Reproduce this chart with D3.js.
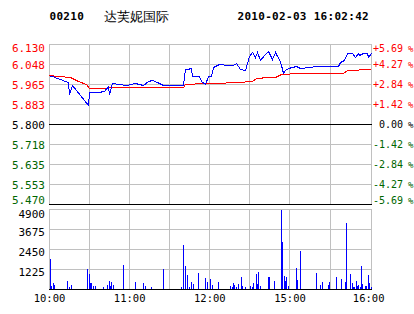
<!DOCTYPE html>
<html>
<head>
<meta charset="utf-8">
<script src="https://cdn.jsdelivr.net/npm/d3@7"></script>
<style>
body { margin: 0; background: #fff; }
svg { display: block; }
text { font-family: "DejaVu Sans Mono", monospace; }
</style>
</head>
<body>
<svg id="chart" width="414" height="314"></svg>
<script>
// header
const stockCode = "00210";
const stockName = "达芙妮国际";
const stamp = "2010-02-03 16:02:42";

// tick labels
const priceTicks = [6.130, 6.048, 5.965, 5.883, 5.800, 5.718, 5.635, 5.553, 5.470];
const pctTicks = ["+5.69", "+4.27", "+2.84", "+1.42", "0.00", "-1.42", "-2.84", "-4.27", "-5.69"];
const volTicks = [4900, 3675, 2450, 1225];
const timeTicks = [0, 60, 120, 180, 240];   // trading minutes since 10:00
const timeLabels = ["10:00", "11:00", "12:00", "15:00", "16:00"];

// price line (minute, price)
const priceMin = [0,2,12,14,15,17,29,30,37,41,44,45,47,52,58,64,70,74,77,81,85,100,102,103,106,107,112,114,117,119,121,123,127,133,138,140,143,147,150,152,154,156,158,161,164,167,169,171,172,174,175,177,179,182,185,188,195,199,216,218,221,223,227,229,231,232,235,238,239,241];
const price = [6.000,5.999,5.979,5.973,5.923,5.960,5.878,5.931,5.931,5.938,5.958,5.922,5.971,5.965,5.961,5.971,5.961,5.977,5.981,5.975,5.962,5.961,6.025,6.027,6.031,6.000,6.000,5.979,5.963,6.000,6.000,6.035,6.049,6.045,6.045,6.052,6.025,6.024,6.080,6.099,6.078,6.099,6.066,6.083,6.101,6.068,6.095,6.080,6.068,6.043,6.009,6.023,6.029,6.036,6.041,6.031,6.036,6.041,6.041,6.055,6.064,6.092,6.092,6.076,6.092,6.086,6.092,6.092,6.078,6.092];

// average price line
const avgMin = [0,7,16,22,28,30,59,61,82,100,102,117,124,141,152,155,157,162,169,174,187,220,223,241];
const avgPrice = [6.002,5.997,5.992,5.978,5.964,5.948,5.951,5.953,5.954,5.954,5.963,5.968,5.969,5.975,5.978,5.990,5.990,5.995,5.995,6.005,6.009,6.009,6.023,6.027];

// volume bars
const volMin = [1,2,3,4,14,15,17,29,30,31,32,33,35,41,44,45,46,47,48,56,65,71,72,77,86,99,101,102,104,105,107,108,112,117,119,121,122,127,136,137,138,139,140,142,144,145,147,151,152,153,155,156,157,158,164,165,169,174,175,176,177,178,179,185,186,188,200,203,205,209,210,215,219,222,223,226,227,228,229,230,231,232,233,234,235,237,238,239,240,241];
const volume = [1820,200,370,250,520,145,270,1200,890,370,370,200,200,145,250,520,165,455,270,1450,455,390,200,145,1200,145,2690,1410,830,145,455,330,950,700,455,620,250,415,185,125,350,250,125,290,745,185,125,185,125,370,930,290,1055,185,745,745,500,4850,2880,810,500,745,185,1300,560,2300,995,250,435,250,435,745,620,435,4040,930,370,125,125,500,185,250,125,1430,310,185,185,870,370,125];

const svg = d3.select("#chart");
const left = 49, right = 371;
const pTop = 44, pBottom = 204;
const vTop = 209, vBottom = 289;

const RED = "#ff0000", GREEN = "#006600", BLUE = "#0000ff", GRID = "#c0c0c0";

// scales
const x = d3.scaleLinear().domain([0, 241]).range([left, right]);
const yP = d3.scaleLinear().domain([5.470, 6.130]).range([pBottom, pTop]);
const yV = d3.scaleLinear().domain([0, 4900]).range([vBottom, vTop]);

const px = v => Math.round(v) + 0.5;

// grid
const grid = svg.append("g").attr("shape-rendering", "crispEdges");
const vGrid = d3.range(30, 240, 30);

function hLine(y, color) {
    grid.append("line")
        .attr("x1", left).attr("x2", right + 1)
        .attr("y1", px(y)).attr("y2", px(y))
        .attr("stroke", color);
}
function vLine(xv, y1, y2) {
    grid.append("line")
        .attr("x1", px(xv)).attr("x2", px(xv))
        .attr("y1", y1).attr("y2", y2)
        .attr("stroke", GRID);
}

// price panel grid
[left, ...vGrid.map(x), right].forEach(xv => vLine(xv, pTop, pBottom));
priceTicks.forEach(v => {
    if (v !== 5.800 && v !== 5.470) hLine(yP(v), GRID);
});

// volume panel grid
[left, ...vGrid.map(x), right].forEach(xv => vLine(xv, vTop, vBottom));
volTicks.forEach(v => hLine(yV(v), GRID));

// volume bars
svg.append("g")
    .attr("shape-rendering", "crispEdges")
    .selectAll("rect")
    .data(volMin)
    .join("rect")
    .attr("x", d => Math.floor(x(d)))
    .attr("width", 1)
    .attr("y", (d, i) => Math.round(yV(volume[i])))
    .attr("height", (d, i) => vBottom - Math.round(yV(volume[i])))
    .attr("fill", BLUE);

// black reference lines
hLine(yP(5.800), "#000");
hLine(yP(5.470), "#000");
hLine(yV(0), "#000");

// lines
const avgLine = d3.line()
    .x((d, i) => px(x(d)))
    .y((d, i) => px(yP(avgPrice[i])));
const priceLine = d3.line()
    .x((d, i) => px(x(d)))
    .y((d, i) => px(yP(price[i])));

svg.append("path")
    .attr("d", avgLine(avgMin))
    .attr("fill", "none")
    .attr("stroke", RED)
    .attr("shape-rendering", "crispEdges");

svg.append("path")
    .attr("d", priceLine(priceMin))
    .attr("fill", "none")
    .attr("stroke", BLUE)
    .attr("shape-rendering", "crispEdges");

// left price axis
const colorAt = i => i < 4 ? RED : (i === 4 ? "#000" : GREEN);
const gy = svg.append("g")
    .attr("transform", "translate(45,0)")
    .call(d3.axisLeft(yP).tickValues(priceTicks).tickFormat(d3.format(".3f")).tickSize(0).tickPadding(0));
gy.select(".domain").remove();
gy.selectAll("text")
    .attr("font-family", "DejaVu Sans Mono")
    .attr("font-size", 11)
    .attr("fill", (d, i) => colorAt(i))
    .attr("dy", (d, i) => i === 0 ? "0.7em" : (i === priceTicks.length - 1 ? "-0.05em" : "0.4em"));

// right percent axis
const pctScale = d3.scalePoint().domain(pctTicks).range([pTop, pBottom]);
const gr = svg.append("g")
    .attr("transform", "translate(403,0)")
    .call(d3.axisLeft(pctScale).tickSize(0).tickPadding(0));
gr.select(".domain").remove();
gr.selectAll("text")
    .attr("font-family", "DejaVu Sans Mono")
    .attr("font-size", 10)
    .attr("fill", (d, i) => colorAt(i))
    .attr("dy", (d, i) => i === 0 ? "0.75em" : (i === pctTicks.length - 1 ? "-0.05em" : "0.38em"));
gr.selectAll(".tick").append("text")
    .attr("x", 5)
    .attr("font-family", "DejaVu Sans Mono")
    .attr("font-size", 9)
    .attr("text-anchor", "start")
    .attr("fill", (d, i) => colorAt(i))
    .attr("dy", (d, i) => i === 0 ? "0.83em" : (i === pctTicks.length - 1 ? "-0.05em" : "0.42em"))
    .text("%");

// volume axis
const gv = svg.append("g")
    .attr("transform", "translate(45,0)")
    .call(d3.axisLeft(yV).tickValues(volTicks).tickFormat(d3.format("d")).tickSize(0).tickPadding(0));
gv.select(".domain").remove();
gv.selectAll("text")
    .attr("font-family", "DejaVu Sans Mono")
    .attr("font-size", 11)
    .attr("fill", "#000")
    .attr("dy", (d, i) => i === 0 ? "0.75em" : "0.55em");

// time axis
const gx = svg.append("g")
    .attr("transform", `translate(0,${vBottom})`)
    .call(d3.axisBottom(x).tickValues(timeTicks).tickFormat((d, i) => timeLabels[i]).tickSize(0).tickPadding(6));
gx.select(".domain").remove();
gx.selectAll("text")
    .attr("font-family", "DejaVu Sans Mono")
    .attr("font-size", 10.5)
    .attr("fill", "#000")
    .attr("dx", (d, i) => i === timeTicks.length - 1 ? -1.5 : 0);

// header
svg.append("text")
    .attr("x", 49.5).attr("y", 20)
    .attr("font-family", "DejaVu Sans Mono")
    .attr("font-weight", "bold")
    .attr("font-size", 11)
    .attr("letter-spacing", 0.3)
    .text(stockCode);
svg.append("text")
    .attr("x", 104).attr("y", 20.5)
    .attr("font-family", "Noto Sans CJK SC")
    .attr("font-size", 12.5)
    .text(stockName);
svg.append("text")
    .attr("x", 237.5).attr("y", 20)
    .attr("font-family", "DejaVu Sans Mono")
    .attr("font-weight", "bold")
    .attr("font-size", 11)
    .attr("letter-spacing", 0.3)
    .text(stamp);
</script>
</body>
</html>
